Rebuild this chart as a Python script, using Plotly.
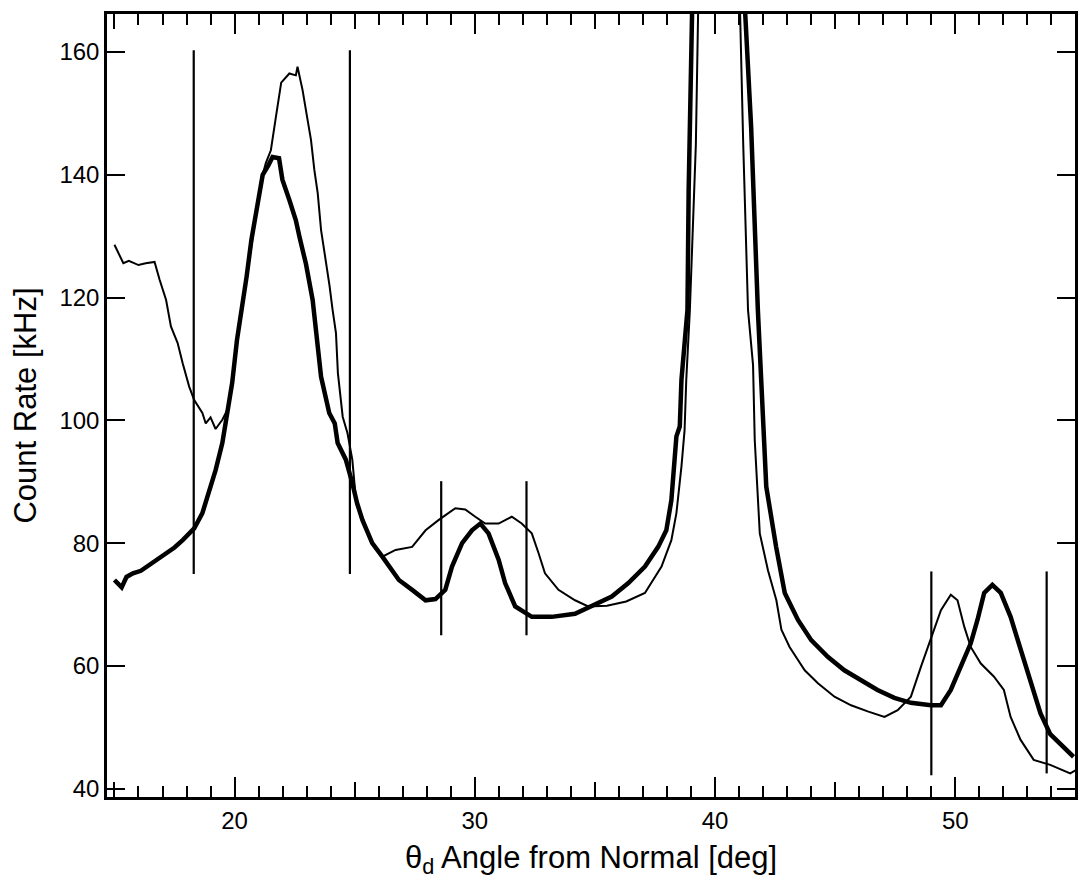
import plotly.graph_objects as go

# Thin curve (series A)
a_x = [15.0, 15.2, 15.37, 15.6, 16.0, 16.3, 16.67, 16.88, 17.15, 17.35, 17.63, 17.84, 18.11, 18.32,
       18.66, 18.80, 19.0, 19.21, 19.49, 19.76, 19.97, 20.18, 20.39, 20.53, 20.74, 20.9, 21.1, 21.3,
       21.51, 21.7, 21.94, 22.28, 22.55, 22.62, 22.83, 23.04, 23.18, 23.32, 23.46, 23.6, 23.8, 23.95,
       24.08, 24.22, 24.3, 24.5, 24.7, 24.9, 25.04, 25.32, 25.73, 26.15, 26.7, 27.39, 27.95, 28.5,
       29.19, 29.6, 30.02, 30.43, 30.99, 31.54, 31.95, 32.37, 32.65, 32.92, 33.48, 34.17, 34.72, 35.5,
       36.3, 37.08, 37.77, 38.18, 38.39, 38.6, 38.73, 38.8, 38.95, 39.2, 39.3, 40.2, 41.03, 41.17,
       41.37, 41.58, 41.65, 41.86, 42.2, 42.55, 42.76, 43.1, 43.73, 44.28, 44.97, 45.66, 46.35, 47.05,
       47.6, 48.15, 48.57, 48.85, 49.12, 49.4, 49.81, 50.09, 50.37, 50.64, 51.06, 51.6, 52.02, 52.3,
       52.71, 53.26, 53.95, 54.78, 55.0]
a_y = [128.6, 127.0, 125.6, 126.0, 125.3, 125.6, 125.8, 122.9, 119.6, 115.3, 112.6, 109.3, 105.5, 103.3,
       101.2, 99.5, 100.5, 98.6, 100.1, 102.2, 107.7, 115.8, 120.7, 124.5, 129.4, 133.8, 139.0, 141.9,
       144.0, 148.9, 155.0, 156.5, 156.2, 157.6, 153.8, 148.9, 145.7, 140.8, 137.0, 131.0, 126.1, 122.0,
       118.0, 114.2, 107.7, 100.6, 97.9, 93.6, 87.6, 83.8, 80.0, 77.8, 78.9, 79.4, 82.1, 83.8,
       85.7, 85.5, 84.3, 83.2, 83.2, 84.3, 83.2, 81.6, 78.4, 75.1, 72.4, 70.7, 69.7, 69.8,
       70.5, 71.9, 76.2, 80.5, 84.9, 92.5, 98.4, 106.6, 118.0, 145.0, 168.0, 240.0, 168.0, 145.1,
       118.0, 109.0, 96.8, 81.6, 75.6, 70.7, 65.9, 63.1, 59.3, 57.2, 55.0, 53.6, 52.6, 51.7,
       52.8, 55.0, 59.9, 63.1, 65.9, 69.1, 71.6, 70.7, 66.4, 63.1, 60.4, 58.3, 56.1, 51.7,
       48.0, 44.7, 43.9, 42.5, 43.0]

# Thick curve (series B)
b_x = [15.0, 15.3, 15.5, 15.77, 16.1, 16.45, 16.8, 17.15, 17.5, 17.84, 18.32, 18.66, 18.94, 19.21,
       19.49, 19.7, 19.9, 20.1, 20.3, 20.5, 20.7, 20.97, 21.17, 21.4, 21.58, 21.85, 21.99, 22.28,
       22.55, 22.7, 22.97, 23.25, 23.4, 23.6, 23.94, 24.17, 24.29, 24.63, 24.9, 25.1, 25.32, 25.73,
       26.15, 26.43, 26.84, 27.39, 27.95, 28.36, 28.77, 29.05, 29.47, 29.88, 30.23, 30.57, 30.99, 31.26,
       31.68, 32.37, 33.2, 34.17, 35.0, 35.7, 36.39, 37.08, 37.63, 37.97, 38.18, 38.32, 38.39, 38.53,
       38.6, 38.85, 38.9, 39.05, 40.1, 41.23, 41.5, 41.78, 41.92, 41.99, 42.13, 42.54, 42.9, 43.2,
       43.45, 44.0, 44.69, 45.38, 46.07, 46.76, 47.46, 48.15, 48.98, 49.4, 49.81, 50.22, 50.64, 50.92,
       51.2, 51.54, 51.89, 52.3, 52.71, 53.13, 53.54, 53.95, 54.51, 54.92]
b_y = [74.0, 72.8, 74.5, 75.1, 75.5, 76.4, 77.5, 78.4, 79.3, 80.5, 82.4, 84.9, 88.2, 91.9,
       96.3, 101.2, 106.1, 113.1, 118.0, 123.4, 129.4, 135.5, 140.0, 141.5, 142.9, 142.7, 139.2, 135.9,
       132.6, 129.9, 125.5, 119.6, 114.2, 107.1, 101.2, 99.5, 96.3, 93.6, 89.8, 86.5, 83.8, 80.0,
       77.8, 76.2, 74.0, 72.4, 70.7, 70.9, 72.4, 76.2, 80.0, 82.1, 83.2, 81.6, 77.3, 73.5,
       69.7, 68.0, 68.0, 68.5, 70.0, 71.3, 73.5, 76.2, 79.4, 82.1, 87.0, 93.0, 97.4, 99.0,
       106.6, 118.0, 137.5, 168.0, 240.0, 168.0, 147.8, 118.0, 106.6, 103.3, 89.2, 79.4, 71.9, 69.5,
       67.5, 64.2, 61.5, 59.3, 57.7, 56.1, 54.8, 54.0, 53.6, 53.6, 56.1, 59.9, 63.7, 67.5,
       71.9, 73.2, 71.9, 68.0, 62.6, 57.2, 52.3, 48.9, 46.8, 45.2]

# Vertical marker lines
v_x = [18.3, 24.8, 28.6, 32.15, 49.0, 53.8]
v_low = [75.0, 75.0, 65.0, 65.0, 42.2, 42.5]
v_high = [160.3, 160.3, 90.1, 90.1, 75.4, 75.4]

x_range = [14.69, 54.98]
y_range = [38.66, 166.19]
x_label_vals = [20, 30, 40, 50]
y_tick_vals = [40, 60, 80, 100, 120, 140, 160]

vl_x, vl_y = [], []
for xv, lo, hi in zip(v_x, v_low, v_high):
    vl_x += [xv, xv, None]
    vl_y += [lo, hi, None]

FONT = "Liberation Sans, Arial, sans-serif"

fig = go.Figure()
fig.add_trace(go.Scatter(x=vl_x, y=vl_y, mode="lines", line=dict(color="black", width=2.2),
                         hoverinfo="skip", showlegend=False))
fig.add_trace(go.Scatter(x=a_x, y=a_y, mode="lines", line=dict(color="black", width=2),
                         showlegend=False))
fig.add_trace(go.Scatter(x=b_x, y=b_y, mode="lines", line=dict(color="black", width=4.5),
                         showlegend=False))
fig.add_trace(go.Scatter(x=[], y=[], xaxis="x2", showlegend=False))

tickvals5 = [15, 20, 25, 30, 35, 40, 45, 50, 55]
ticktext5 = [str(v) if v in x_label_vals else "" for v in tickvals5]

fig.update_layout(
    width=1078, height=890,
    margin=dict(l=107, r=0, t=14, b=93),
    paper_bgcolor="white", plot_bgcolor="white",
    font=dict(family=FONT, color="black", size=24),
    xaxis=dict(
        range=x_range, tickvals=tickvals5, ticktext=ticktext5,
        ticks="inside", ticklen=15, tickwidth=2, tickcolor="black",
        minor=dict(dtick=1, tick0=15, ticks="inside", ticklen=11, tickwidth=2, tickcolor="black"),
        showline=True, linewidth=2.5, linecolor="black", mirror="ticks",
        showgrid=False, zeroline=False,
        tickfont=dict(size=24),
        title=dict(text="θ<sub>d</sub> Angle from Normal [deg]", font=dict(size=31), standoff=14),
    ),
    xaxis2=dict(
        overlaying="x", matches="x", range=x_range, tickvals=x_label_vals,
        ticks="inside", ticklen=20, tickwidth=2, tickcolor="black",
        showticklabels=False, showline=True, linewidth=2.5, linecolor="black", mirror="ticks",
        showgrid=False, zeroline=False, anchor="y",
    ),
    yaxis=dict(
        range=y_range, tickvals=y_tick_vals,
        ticks="inside", ticklen=18, tickwidth=2, tickcolor="black",
        showline=True, linewidth=2.5, linecolor="black", mirror="ticks",
        showgrid=False, zeroline=False,
        tickfont=dict(size=24),
        title=dict(text="Count Rate [kHz]", font=dict(size=31), standoff=14),
    ),
)

fig.write_html("out.html")
